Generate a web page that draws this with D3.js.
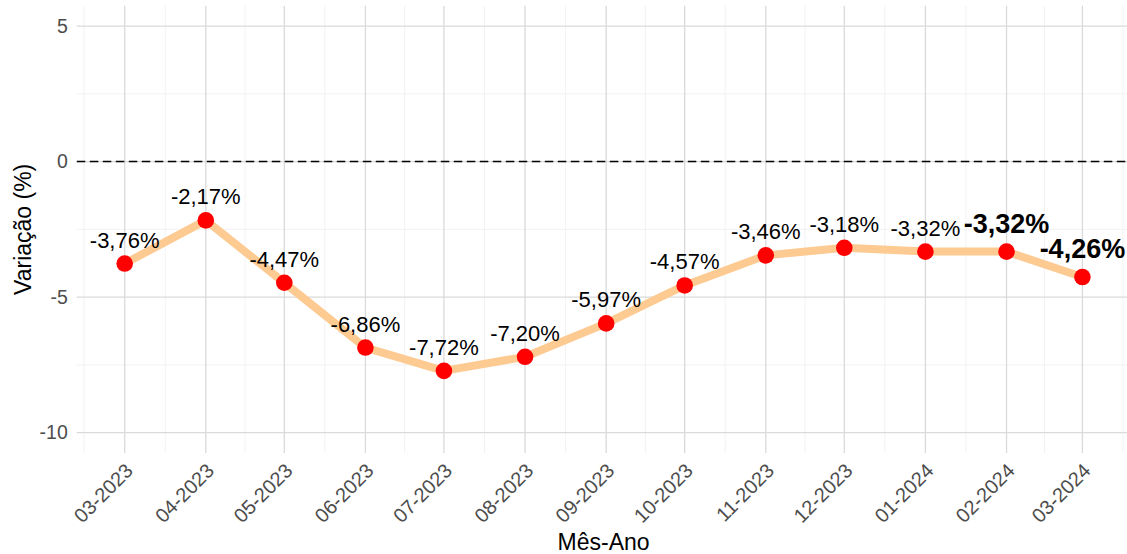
<!DOCTYPE html>
<html>
<head>
<meta charset="utf-8">
<script src="https://cdn.jsdelivr.net/npm/d3@7"></script>
<style>
  html, body { margin: 0; padding: 0; background: #fff; overflow: hidden; }
  svg { display: block; font-family: "Liberation Sans", Arial, Helvetica, sans-serif; }
</style>
</head>
<body>
<div id="chart"></div>
<script>
// --- DATA ---
const MONTHS = ["03-2023", "04-2023", "05-2023", "06-2023", "07-2023", "08-2023", "09-2023",
                "10-2023", "11-2023", "12-2023", "01-2024", "02-2024", "03-2024"];
const VARIATION = [-3.76, -2.17, -4.47, -6.86, -7.72, -7.20, -5.97, -4.57, -3.46, -3.18, -3.32, -3.32, -4.26];
const HIGHLIGHT = [false, false, false, false, false, false, false, false, false, false, false, true, true];
const Y_TICKS = [-10, -5, 0, 5];
const Y_LIMITS = [-10, 5];

// --- CONFIG ---
const WIDTH = 1127;
const HEIGHT = 554;
const PANEL = { left: 76.8, right: 1130.3, top: 5.7, bottom: 453 };

const parseMonth = d3.timeParse("%m-%Y");
const data = MONTHS.map((m, i) => ({ label: m, date: parseMonth(m), value: VARIATION[i], bold: HIGHLIGHT[i] }));

const svg = d3.select("#chart")
    .append("svg")
    .attr("width", WIDTH)
    .attr("height", HEIGHT);

// scales (ggplot-style 5% expansion)
const [d0, d1] = d3.extent(data, d => d.date);
const pad = (d1 - d0) * 0.05;
const x = d3.scaleTime()
    .domain([new Date(+d0 - pad), new Date(+d1 + pad)])
    .range([PANEL.left, PANEL.right]);

const ySpan = Y_LIMITS[1] - Y_LIMITS[0];
const y = d3.scaleLinear()
    .domain([Y_LIMITS[0] - ySpan * 0.05, Y_LIMITS[1] + ySpan * 0.05])
    .range([PANEL.bottom, PANEL.top]);

// minor breaks: midpoints between majors, extended one step at each end
const majors = data.map(d => +d.date);
const step = majors[1] - majors[0];
const ext = [majors[0] - step, ...majors, majors[majors.length - 1] + step];
const xMinor = d3.pairs(ext).map(([a, b]) => new Date((a + b) / 2));
const yMinor = d3.pairs(Y_TICKS).map(([a, b]) => (a + b) / 2);

const grid = svg.append("g");
grid.selectAll("line.xminor").data(xMinor).join("line")
    .attr("x1", d => x(d)).attr("x2", d => x(d))
    .attr("y1", PANEL.top).attr("y2", PANEL.bottom)
    .attr("stroke", "#efefef").attr("stroke-width", 0.8);
grid.selectAll("line.yminor").data(yMinor).join("line")
    .attr("x1", PANEL.left).attr("x2", PANEL.right)
    .attr("y1", d => y(d)).attr("y2", d => y(d))
    .attr("stroke", "#efefef").attr("stroke-width", 0.8);
grid.selectAll("line.xmajor").data(data).join("line")
    .attr("x1", d => x(d.date)).attr("x2", d => x(d.date))
    .attr("y1", PANEL.top).attr("y2", PANEL.bottom)
    .attr("stroke", "#dadada").attr("stroke-width", 1.3);
grid.selectAll("line.ymajor").data(Y_TICKS).join("line")
    .attr("x1", PANEL.left).attr("x2", PANEL.right)
    .attr("y1", d => y(d)).attr("y2", d => y(d))
    .attr("stroke", "#dadada").attr("stroke-width", 1.3);

// zero reference line
svg.append("line")
    .attr("x1", PANEL.left).attr("x2", PANEL.right)
    .attr("y1", y(0)).attr("y2", y(0))
    .attr("stroke", "#000").attr("stroke-width", 1.5)
    .attr("stroke-dasharray", "8.5,4.5");

// axes
const yAxis = d3.axisLeft(y).tickValues(Y_TICKS).tickFormat(d => String(d)).tickSize(0).tickPadding(9);
svg.append("g")
    .attr("transform", `translate(${PANEL.left},0)`)
    .call(yAxis)
    .call(g => g.select(".domain").remove())
    .selectAll("text")
    .attr("font-size", "19.5px")
    .attr("fill", "#4d4d4d")
    .attr("font-family", "Liberation Sans, Arial, sans-serif");

const xAxis = d3.axisBottom(x).tickValues(data.map(d => d.date)).tickFormat(d3.timeFormat("%m-%Y")).tickSize(0);
svg.append("g")
    .attr("transform", `translate(0,${PANEL.bottom})`)
    .call(xAxis)
    .call(g => g.select(".domain").remove())
    .selectAll("text")
    .attr("font-size", "20px")
    .attr("fill", "#4d4d4d")
    .attr("font-family", "Liberation Sans, Arial, sans-serif")
    .attr("text-anchor", "end")
    .attr("dy", null)
    .attr("y", 0)
    .attr("transform", "translate(9,19) rotate(-45)");

// line + points
const line = d3.line().x(d => x(d.date)).y(d => y(d.value));
svg.append("path")
    .datum(data)
    .attr("d", line)
    .attr("fill", "none")
    .attr("stroke", "#fdca92")
    .attr("stroke-width", 8)
    .attr("stroke-linejoin", "round");

svg.selectAll("circle.pt").data(data).join("circle")
    .attr("cx", d => x(d.date))
    .attr("cy", d => y(d.value))
    .attr("r", 8.3)
    .attr("fill", "#ff0000");

// value labels
const fmt = v => v.toFixed(2).replace(".", ",") + "%";
svg.selectAll("text.val").data(data).join("text")
    .attr("x", d => x(d.date))
    .attr("y", d => y(d.value) - (d.bold ? 19 : 16))
    .attr("text-anchor", "middle")
    .attr("font-size", d => d.bold ? "27px" : "22px")
    .attr("font-weight", d => d.bold ? "bold" : "normal")
    .attr("fill", "#000")
    .text(d => fmt(d.value));

// axis titles
svg.append("text")
    .attr("x", (PANEL.left + PANEL.right) / 2)
    .attr("y", 550)
    .attr("text-anchor", "middle")
    .attr("font-size", "23px")
    .text("Mês-Ano");

svg.append("text")
    .attr("transform", `translate(31,${(PANEL.top + PANEL.bottom) / 2}) rotate(-90)`)
    .attr("text-anchor", "middle")
    .attr("font-size", "23px")
    .text("Variação (%)");
</script>
</body>
</html>
